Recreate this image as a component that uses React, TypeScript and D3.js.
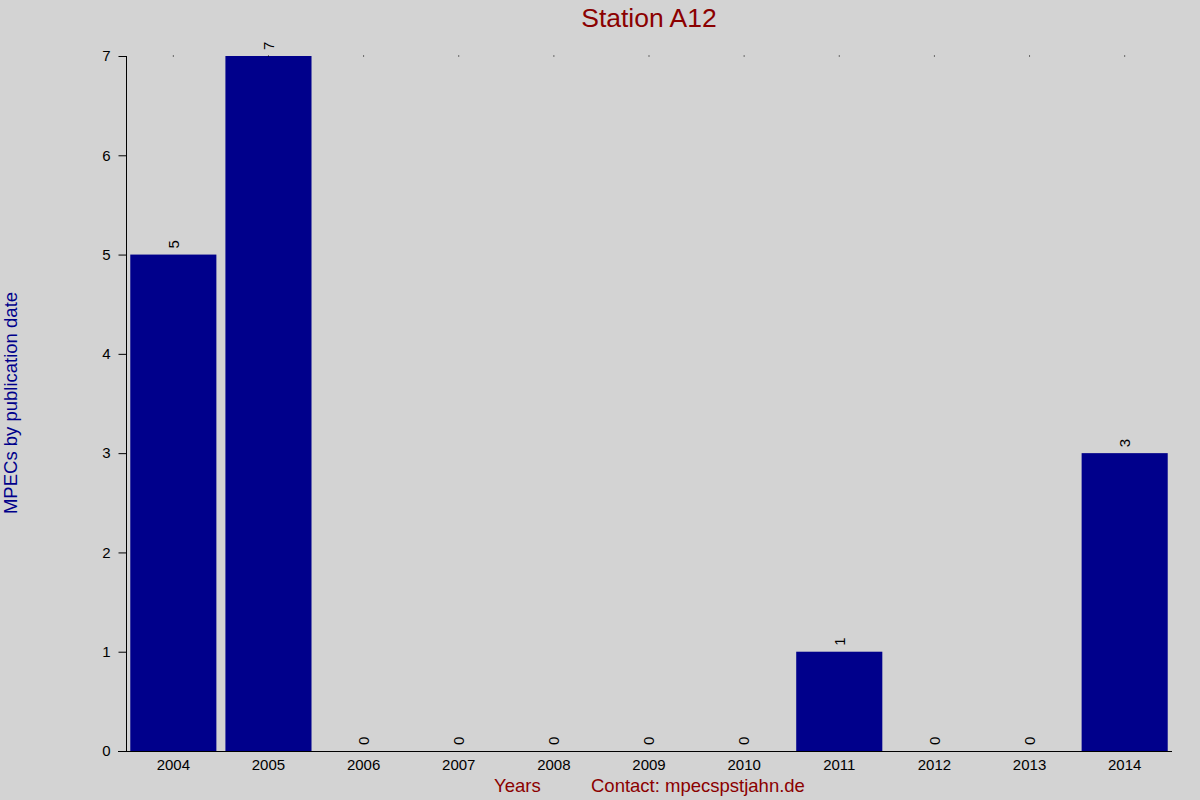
import React, { useRef, useEffect } from "react";
import * as d3 from "d3";

const years = ["2004", "2005", "2006", "2007", "2008", "2009", "2010", "2011", "2012", "2013", "2014"];
const counts = [5, 7, 0, 0, 0, 0, 0, 1, 0, 0, 3];
const yTickValues = [0, 1, 2, 3, 4, 5, 6, 7];

const width = 1200;
const height = 800;
const plotLeft = 126;
const plotRight = 1172;
const plotTop = 56;
const plotBottom = 751;

const font = "'Liberation Sans', Arial, sans-serif";

const App = () => {
  const ref: any = useRef();

  useEffect(() => {
    const svg = d3.select(ref.current);
    svg.selectAll("*").remove();

    const xScale = d3
      .scaleBand()
      .domain(years)
      .range([plotLeft, plotRight])
      .paddingInner(0.095)
      .paddingOuter(0.045);

    const yScale = d3.scaleLinear().domain([0, 7]).range([plotBottom, plotTop]);

    // background
    svg.append("rect").attr("width", width).attr("height", height).attr("fill", "#d3d3d3");

    // bars
    svg
      .selectAll(".bar")
      .data(years)
      .enter()
      .append("rect")
      .attr("class", "bar")
      .attr("x", (d: any) => xScale(d) as number)
      .attr("y", (d: any, i: number) => yScale(counts[i]))
      .attr("width", xScale.bandwidth())
      .attr("height", (d: any, i: number) => plotBottom - yScale(counts[i]))
      .attr("fill", "#00008b");

    // value labels (rotated)
    svg
      .selectAll(".val")
      .data(years)
      .enter()
      .append("text")
      .attr("class", "val")
      .attr("transform", (d: any, i: number) => {
        const cx = (xScale(d) as number) + xScale.bandwidth() / 2;
        const cy = yScale(counts[i]) - 6;
        return "translate(" + cx + "," + cy + ") rotate(-90)";
      })
      .attr("dy", "0.35em")
      .attr("font-family", font)
      .attr("font-size", 15)
      .attr("fill", "#000")
      .text((d: any, i: number) => counts[i]);

    // top dots at category centers
    svg
      .selectAll(".dot")
      .data(years)
      .enter()
      .append("rect")
      .attr("x", (d: any) => (xScale(d) as number) + xScale.bandwidth() / 2 - 0.5)
      .attr("y", plotTop - 0.5)
      .attr("width", 1)
      .attr("height", 1)
      .attr("fill", "#000");

    // y axis
    const yAxis = d3.axisLeft(yScale).tickValues(yTickValues).tickSize(8).tickPadding(8).tickFormat(d3.format("d"));
    const yAxisPlot = svg
      .append("g")
      .attr("transform", "translate(" + (plotLeft + 0.5) + ",0)")
      .call(yAxis as any);
    yAxisPlot.select(".domain").attr("d", "M0," + plotTop + "V" + (plotBottom + 0.5));
    yAxisPlot.selectAll("text").attr("font-family", font).attr("font-size", 15).attr("fill", "#000");

    // x axis
    const xAxis = d3.axisBottom(xScale).tickSize(0).tickPadding(8);
    const xAxisPlot = svg
      .append("g")
      .attr("transform", "translate(0," + (plotBottom + 0.5) + ")")
      .call(xAxis as any);
    xAxisPlot.select(".domain").attr("d", "M" + (plotLeft - 8) + ",0H" + plotRight);
    xAxisPlot.selectAll("text").attr("font-family", font).attr("font-size", 15).attr("fill", "#000");

    // title
    svg
      .append("text")
      .attr("x", (plotLeft + plotRight) / 2)
      .attr("y", 27)
      .attr("text-anchor", "middle")
      .attr("font-family", font)
      .attr("font-size", 26.5)
      .attr("fill", "#8b0000")
      .text("Station A12");

    // y title
    svg
      .append("text")
      .attr("transform", "translate(17,403) rotate(-90)")
      .attr("text-anchor", "middle")
      .attr("font-family", font)
      .attr("font-size", 18.5)
      .attr("fill", "#00008b")
      .text("MPECs by publication date");

    // x titles
    svg
      .append("text")
      .attr("x", 494)
      .attr("y", 792)
      .attr("font-family", font)
      .attr("font-size", 18.5)
      .attr("fill", "#8b0000")
      .text("Years");

    svg
      .append("text")
      .attr("x", 591)
      .attr("y", 792)
      .attr("font-family", font)
      .attr("font-size", 18.5)
      .attr("fill", "#8b0000")
      .text("Contact: mpecspstjahn.de");
  }, []);

  return (
    <svg
      ref={ref}
      width={width}
      height={height}
      style={{ position: "absolute", left: 0, top: 0, display: "block" }}
    ></svg>
  );
};

export default App;
